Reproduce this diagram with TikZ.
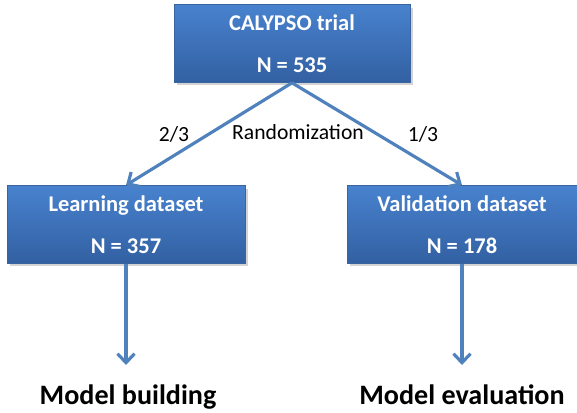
\documentclass[tikz,border=0pt]{standalone}
\usepackage{fontspec}
\setmainfont{Carlito}
\usetikzlibrary{
		positioning,
		arrows.meta,
		shadows
	}
\definecolor{boxtop}{RGB}{72,130,206}
\definecolor{boxbot}{RGB}{50,96,162}
\definecolor{boxline}{RGB}{58,100,160}
\definecolor{flowblue}{RGB}{79,129,189}
\tikzset{
		>={Straight Barb[length=1.8mm,width=3.4mm]}
	}

\begin{document}
\begin{tikzpicture}[-,auto,x=0.02cm,y=-0.02cm]
	\tikzstyle{point}=[coordinate]
	\tikzstyle{block}=[draw=boxline, rectangle, top color=boxtop, bottom color=boxbot, text=white, align=center, font=\fontsize{12.8}{15}\selectfont\bfseries, minimum height=1.56cm, drop shadow={opacity=0.35, shadow xshift=0.6mm, shadow yshift=-0.6mm}]
	\tikzstyle{flow}=[->, draw=flowblue, line width=1.8pt]
	\tikzstyle{label}=[font=\fontsize{12.3}{15}\selectfont]
	\tikzstyle{result}=[anchor=base, font=\fontsize{16}{19}\selectfont\bfseries]
	\useasboundingbox (0,0) rectangle (577,412);
	% Blocks
	\node[block, minimum width=4.72cm] (trial) at (292,43.5)  {CALYPSO trial\\[9pt]N = 535};
	\node[block, minimum width=4.76cm] (learn) at (126,224.5) {Learning dataset\\[9pt]N = 357};
	\node[block, minimum width=4.6cm]  (valid) at (462,224.5) {Validation dataset\\[9pt]N = 178};
	% Points and results
	\node[point] (p1) at (126,365) {};
	\node[point] (p2) at (462,365) {};
	\node[result] (build) at (128,404) {Model building};
	\node[result] (eval)  at (462,404) {Model evaluation};
	% Labels
	\node[label] (rand)  at (298,132) {Randomization};
	\node[label] (two)   at (174,134) {2/3};
	\node[label] (one)   at (423,134) {1/3};
	% Arrows
	\draw [flow] (trial.south) -- (learn.north);
	\draw [flow] (trial.south) -- (valid.north);
	\draw [flow] (learn) -- (p1);
	\draw [flow] (valid) -- (p2);
\end{tikzpicture}
\end{document}
